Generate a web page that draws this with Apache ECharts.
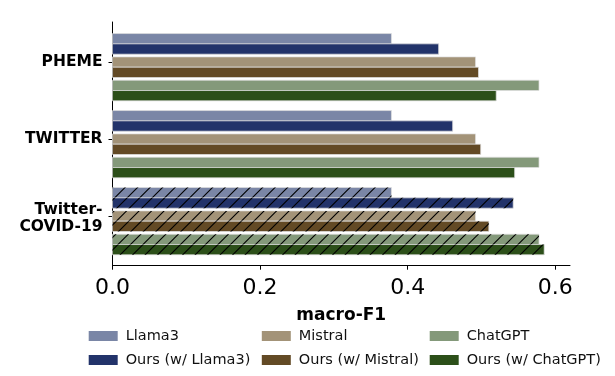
<!DOCTYPE html>
<html>
<head>
<meta charset="utf-8">
<script src="https://cdn.jsdelivr.net/npm/echarts@6/dist/echarts.min.js"></script>
<style>
  html, body { margin: 0; padding: 0; background: #fff; }
  #chart { width: 615px; height: 376px; }
</style>
</head>
<body>
<div id="chart"></div>
<script>
// datasets, top to bottom
const categories = ['PHEME', 'TWITTER', 'Twitter-\nCOVID-19']
const seriesNames = ['Llama3', 'Ours (w/ Llama3)', 'Mistral', 'Ours (w/ Mistral)', 'ChatGPT', 'Ours (w/ ChatGPT)']

// macro-F1 per series, one value per dataset
const llama3 = [0.378, 0.378, 0.378]
const oursLlama3 = [0.442, 0.461, 0.543]
const mistral = [0.492, 0.492, 0.492]
const oursMistral = [0.496, 0.499, 0.510]
const chatgpt = [0.578, 0.578, 0.578]
const oursChatgpt = [0.520, 0.545, 0.585]

const xTicks = [0, 0.2, 0.4, 0.6]

const seriesValues = [llama3, oursLlama3, mistral, oursMistral, chatgpt, oursChatgpt]
const colors = ['#7a86a6', '#22336a', '#a39378', '#634a25', '#84997a', '#2c4f19']

// bar layout inside one category (in y units, 1 = one category step)
const barH = 0.134
const pairGap = 0.035
const barTop = [0, 1, 2, 3, 4, 5].map(i => -0.370 + i * barH + Math.floor(i / 2) * pairGap)

// hatch tile "/" for the last dataset (two lines per 25px tile)
const hatchCanvas = document.createElement('canvas')
hatchCanvas.width = 25
hatchCanvas.height = 25
const hctx = hatchCanvas.getContext('2d')
hctx.strokeStyle = '#000'
hctx.lineWidth = 1.1
hctx.beginPath()
;[-25, -12.5, 0, 12.5, 25].forEach(o => {
  hctx.moveTo(o - 1, 26)
  hctx.lineTo(o + 26, -1)
})
hctx.stroke()
const hatch = { image: hatchCanvas, repeat: 'repeat' }

const chart = echarts.init(document.getElementById('chart'))

const renderBar = (params, api) => {
  const cat = api.value(1)
  const val = api.value(0)
  const t = cat + barTop[params.seriesIndex]
  const p0 = api.coord([0, t])
  const p1 = api.coord([val, t + barH])
  const shape = { x: p0[0], y: p0[1], width: p1[0] - p0[0], height: p1[1] - p0[1] }
  const children = [{
    type: 'rect',
    shape,
    style: { fill: api.visual('color'), stroke: 'rgba(225,225,225,0.9)', lineWidth: 0.8 }
  }]
  if (cat === 2) {
    children.push({ type: 'rect', shape, style: { fill: hatch } })
  }
  return { type: 'group', children }
}

const series = seriesNames.map((name, i) => ({
  name,
  type: 'custom',
  renderItem: renderBar,
  itemStyle: { color: colors[i] },
  encode: { x: 0, y: 1 },
  data: seriesValues[i].map((v, c) => [v, c])
}))

const legendBase = {
  orient: 'vertical',
  top: 328.5,
  height: 48,
  padding: 0,
  icon: 'rect',
  itemWidth: 29,
  itemHeight: 10,
  itemGap: 9,
  textStyle: { fontSize: 14.5, color: '#111', fontFamily: 'DejaVu Sans', padding: [0, 0, 0, 3] }
}

const option = {
  animation: false,
  textStyle: { fontFamily: 'DejaVu Sans' },
  grid: { left: 112.5, right: 45, top: 22, bottom: 110.3 },
  legend: [
    { ...legendBase, left: 88.7, data: [seriesNames[0], seriesNames[1]] },
    { ...legendBase, left: 261.8, data: [seriesNames[2], seriesNames[3]] },
    { ...legendBase, left: 429.7, data: [seriesNames[4], seriesNames[5]] }
  ],
  xAxis: {
    type: 'value',
    min: 0,
    max: 0.62,
    name: 'macro-F1',
    nameLocation: 'middle',
    nameGap: 41,
    nameTextStyle: { fontSize: 17, fontWeight: 'bold', color: '#000' },
    axisLine: { show: true, onZero: false, lineStyle: { color: '#000', width: 1 } },
    axisTick: { show: true, length: 4, customValues: xTicks, lineStyle: { color: '#000' } },
    axisLabel: {
      customValues: xTicks,
      fontSize: 22,
      color: '#000',
      margin: 12,
      formatter: v => v.toFixed(1)
    },
    splitLine: { show: false }
  },
  yAxis: {
    type: 'value',
    inverse: true,
    min: -0.52,
    max: 2.645,
    axisLine: { show: true, onZero: false, lineStyle: { color: '#000', width: 1 } },
    axisTick: { show: true, length: 4, customValues: [0, 1, 2], lineStyle: { color: '#000' } },
    axisLabel: {
      customValues: [0, 1, 2],
      fontSize: 15.5,
      fontWeight: 'bold',
      color: '#000',
      margin: 10,
      lineHeight: 17,
      align: 'right',
      formatter: v => {
        const name = categories[Math.round(v)]
        return name.includes('\n') ? '{low|' + name.split('\n').join('}\n{low|') + '}' : name
      },
      rich: {
        low: { fontSize: 15.5, fontWeight: 'bold', color: '#000', lineHeight: 17, padding: [5, 0, 0, 0] }
      }
    },
    splitLine: { show: false }
  },
  series
}

chart.setOption(option)
</script>
</body>
</html>
